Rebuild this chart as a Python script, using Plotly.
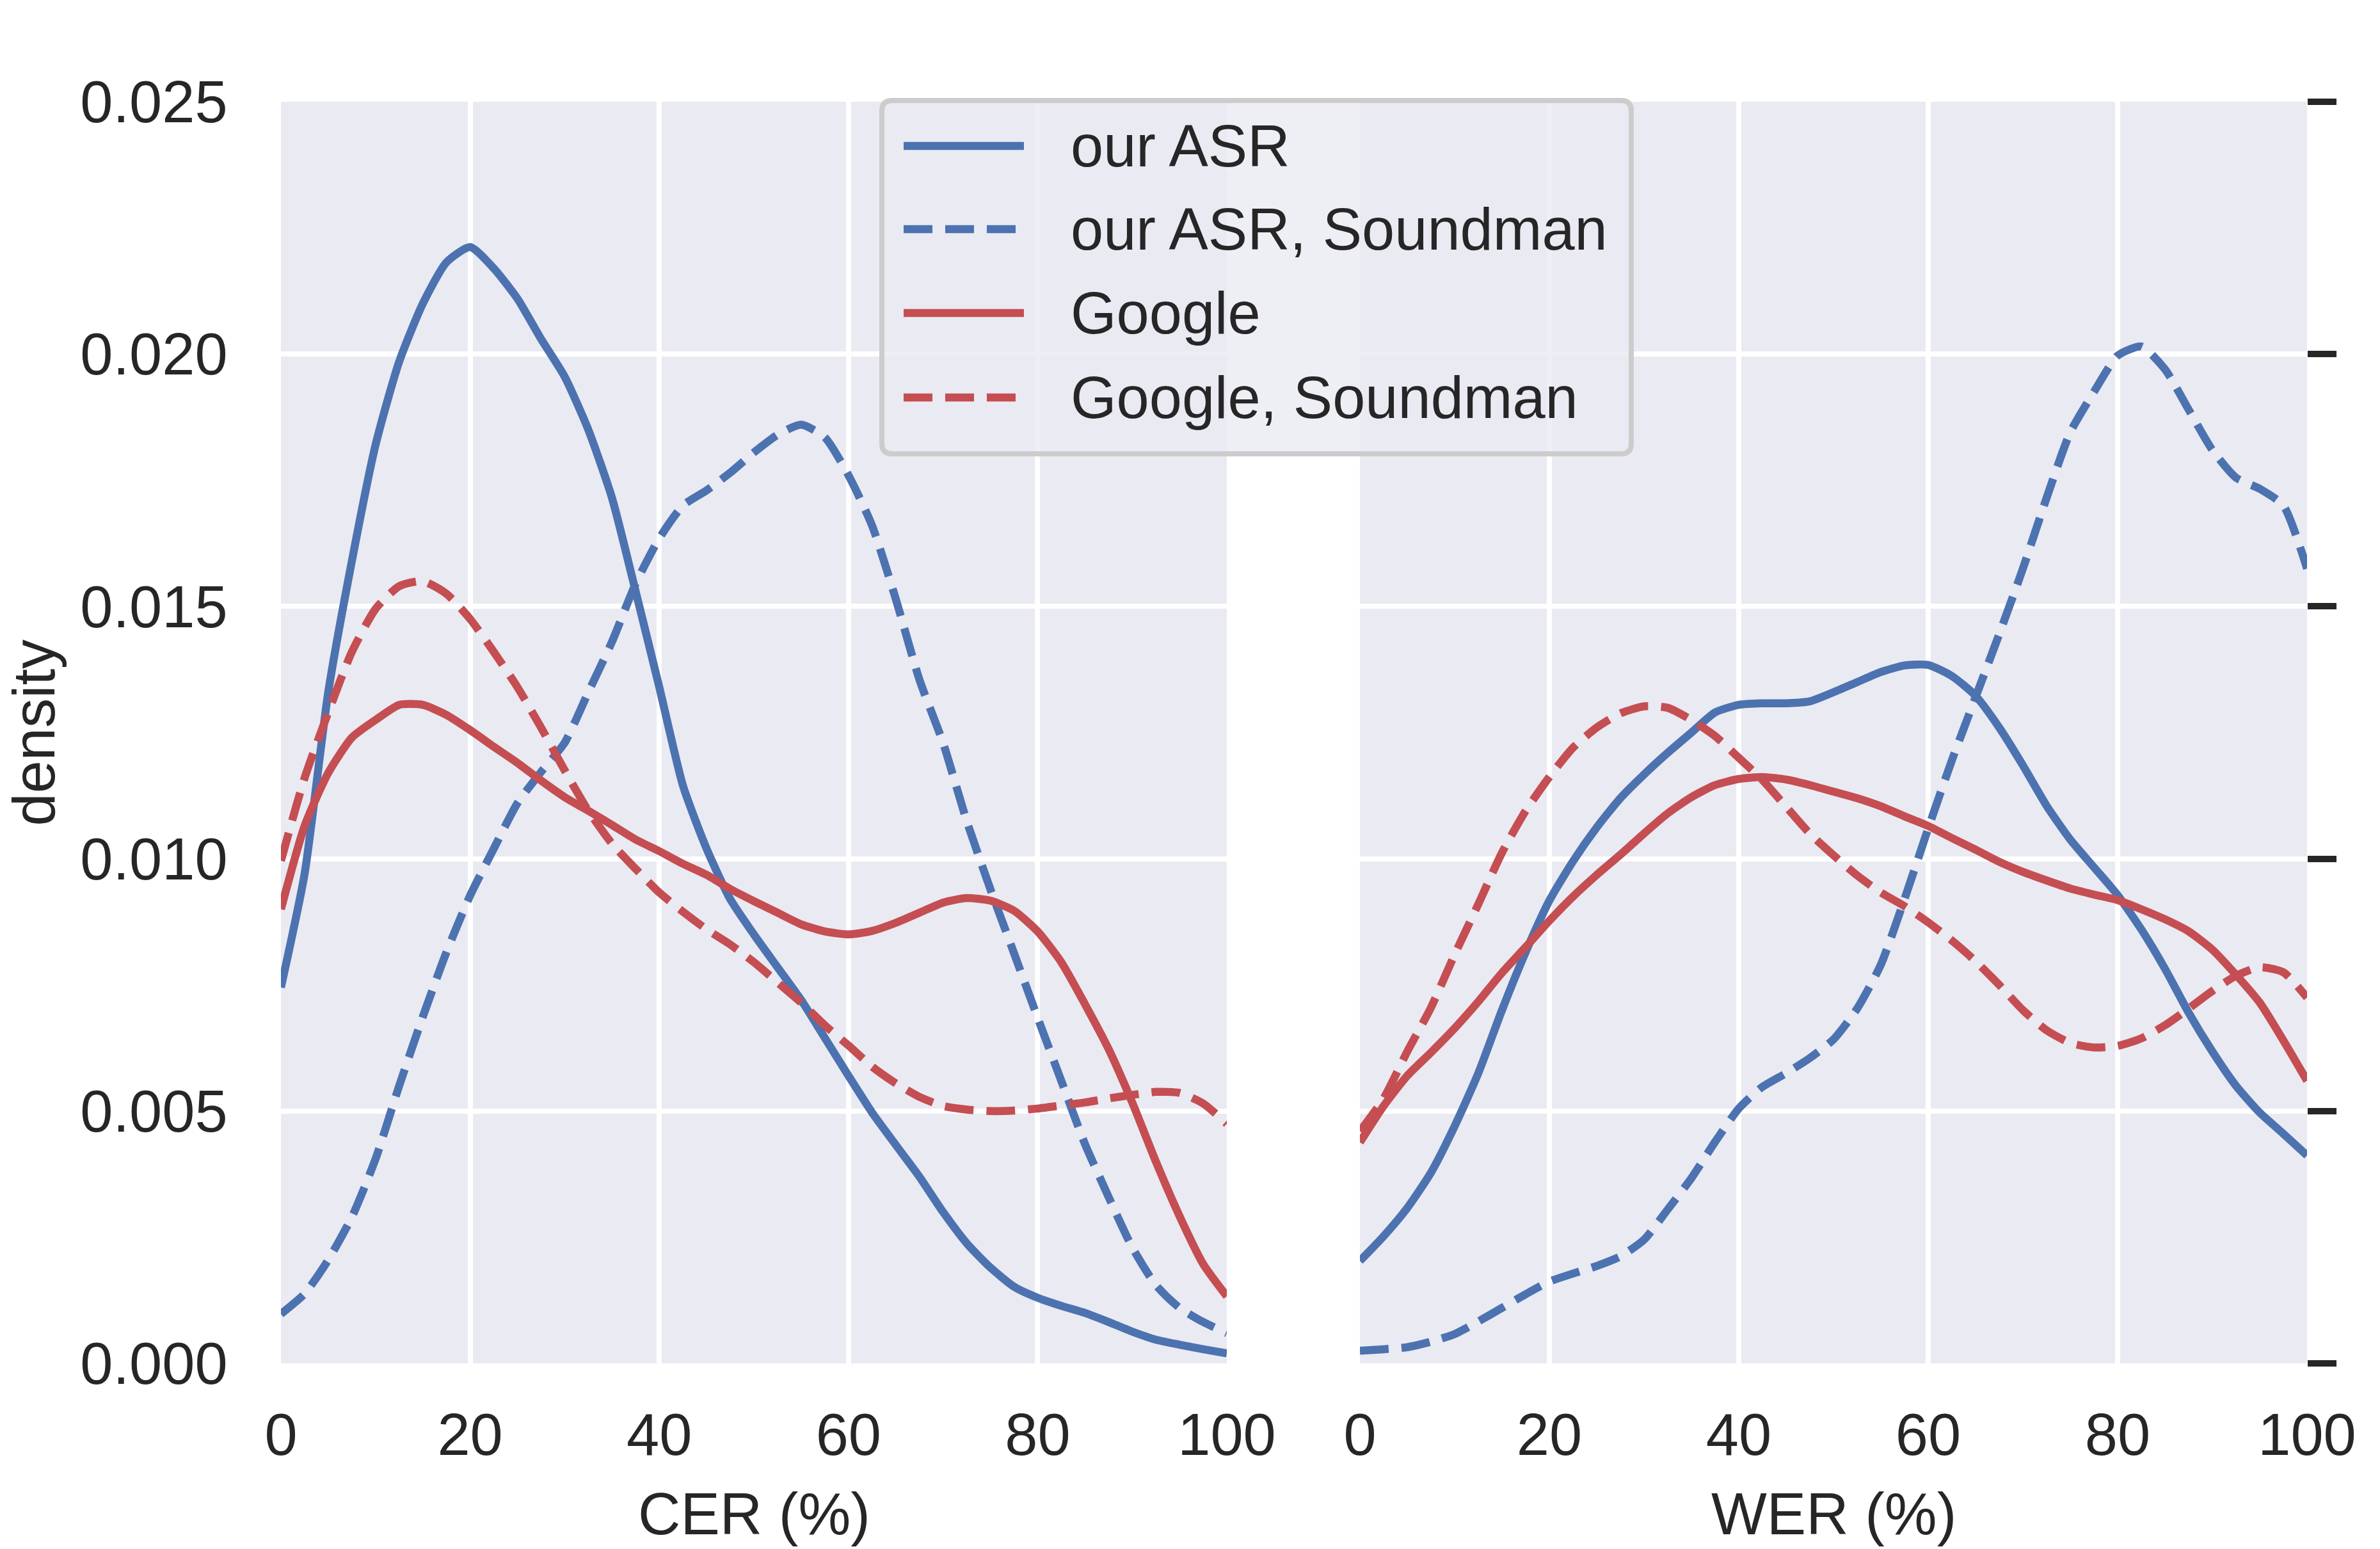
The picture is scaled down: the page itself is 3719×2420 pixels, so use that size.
import plotly.graph_objects as go

# ---------------- data ----------------
x_grid = [0, 2.5, 5, 7.5, 10, 12.5, 15, 17.5, 20, 22.5, 25, 27.5, 30, 32.5, 35, 37.5,
          40, 42.5, 45, 47.5, 50, 52.5, 55, 57.5, 60, 62.5, 65, 67.5, 70, 72.5, 75,
          77.5, 80, 82.5, 85, 87.5, 90, 92.5, 95, 97.5, 100]

series_names = ["our ASR", "our ASR, Soundman", "Google", "Google, Soundman"]

cer_our_asr = [0.00745, 0.0097, 0.0133, 0.0159, 0.0182, 0.01985, 0.0210, 0.02182, 0.02212, 0.0217,
               0.0211, 0.0203, 0.01955, 0.0185, 0.01715, 0.0153, 0.0134, 0.01145, 0.0102, 0.0092,
               0.0085, 0.00785, 0.0072, 0.00645, 0.0057, 0.00497, 0.00433, 0.0037, 0.0030, 0.00238,
               0.0019, 0.00152, 0.0013, 0.00114, 0.0010, 0.00082, 0.00063, 0.00047, 0.00037, 0.00028,
               0.0002]
cer_our_asr_soundman = [0.00098, 0.00138, 0.00205, 0.0029, 0.00405, 0.0055, 0.00687, 0.00815, 0.00927, 0.0102,
                        0.0111, 0.01172, 0.0123, 0.0133, 0.0143, 0.01545, 0.01635, 0.0170, 0.0173, 0.01765,
                        0.01805, 0.0184, 0.0186, 0.01835, 0.0176, 0.0166, 0.01515, 0.01355, 0.0123, 0.01075,
                        0.0094, 0.00813, 0.00685, 0.0056, 0.00435, 0.0033, 0.0023, 0.00155, 0.0011, 0.00082,
                        0.0006]
cer_google = [0.0090, 0.01065, 0.0117, 0.0124, 0.01275, 0.01305, 0.01305, 0.01285, 0.01255, 0.01222,
              0.0119, 0.01155, 0.01122, 0.01095, 0.01067, 0.01038, 0.01015, 0.0099, 0.00968, 0.0094,
              0.00916, 0.00893, 0.0087, 0.00856, 0.0085, 0.00857, 0.00873, 0.00893, 0.00913, 0.00922,
              0.00917, 0.00897, 0.00856, 0.00795, 0.00712, 0.00623, 0.00517, 0.0040, 0.00292, 0.00197,
              0.00133]
cer_google_soundman = [0.00996, 0.0116, 0.0129, 0.0141, 0.01495, 0.0154, 0.0155, 0.01525, 0.01475, 0.0141,
                       0.0134, 0.0126, 0.01175, 0.01095, 0.0103, 0.0098, 0.00933, 0.00895, 0.0086, 0.0083,
                       0.00795, 0.00755, 0.00715, 0.0067, 0.0063, 0.00588, 0.00555, 0.00528, 0.0051, 0.00503,
                       0.0050, 0.00501, 0.00505, 0.00511, 0.00517, 0.00525, 0.00532, 0.00538, 0.00536, 0.00515,
                       0.00475]

wer_our_asr = [0.00203, 0.00252, 0.00308, 0.00378, 0.0047, 0.00575, 0.0070, 0.00815, 0.00917, 0.00995,
               0.01062, 0.0112, 0.01167, 0.0121, 0.0125, 0.0129, 0.01305, 0.01308, 0.01308, 0.01312,
               0.0133, 0.0135, 0.0137, 0.01383, 0.01384, 0.01362, 0.01323, 0.0126, 0.01185, 0.01105,
               0.01038, 0.00983, 0.00928, 0.0086, 0.00782, 0.00695, 0.00618, 0.0055, 0.00497, 0.00455,
               0.00412]
wer_our_asr_soundman = [0.00025, 0.00028, 0.00032, 0.00043, 0.00058, 0.00083, 0.0011, 0.00137, 0.00162, 0.00178,
                        0.00193, 0.00212, 0.00245, 0.00305, 0.00367, 0.00439, 0.00505, 0.00548, 0.00575, 0.00605,
                        0.00642, 0.00703, 0.0079, 0.0092, 0.0106, 0.01195, 0.0132, 0.01445, 0.01575, 0.01715,
                        0.01845, 0.01925, 0.01997, 0.02015, 0.0197, 0.0189, 0.0181, 0.01755, 0.01733, 0.0170,
                        0.01575]
wer_google = [0.00438, 0.0051, 0.0057, 0.00616, 0.00664, 0.00717, 0.00774, 0.00825, 0.00877, 0.00925,
              0.00968, 0.01008, 0.0105, 0.0109, 0.01122, 0.01146, 0.01158, 0.01162, 0.01157, 0.01146,
              0.01133, 0.0112, 0.01104, 0.01084, 0.01065, 0.01041, 0.01018, 0.00994, 0.00974, 0.00957,
              0.00941, 0.00929, 0.00918, 0.0090, 0.0088, 0.00856, 0.0082, 0.0077, 0.00715, 0.0064,
              0.0056]
wer_google_soundman = [0.0046, 0.00525, 0.00618, 0.00705, 0.0081, 0.0091, 0.01012, 0.01095, 0.01162, 0.0122,
                       0.0126, 0.01288, 0.01302, 0.01299, 0.01275, 0.01243, 0.0120, 0.01156, 0.01103, 0.0105,
                       0.01007, 0.00967, 0.00933, 0.00906, 0.00874, 0.00838, 0.00797, 0.0075, 0.0070, 0.0066,
                       0.00635, 0.00626, 0.00629, 0.00644, 0.0067, 0.00703, 0.00738, 0.00768, 0.00785, 0.00775,
                       0.00725]

x_ticks = [0, 20, 40, 60, 80, 100]
y_ticks = [0.0, 0.005, 0.010, 0.015, 0.020, 0.025]
x_titles = ["CER (%)", "WER (%)"]
y_title = "density"

# ---------------- style ----------------
W, H = 3719, 2420
PL, PR, PT, PB = 439, 3605, 159, 2130          # plot area in pixels
BLUE, RED = "#4C72B0", "#C44E52"
TEXT = "#262626"
BG = "#EAEAF2"
LW = 12.5
DASH = "45px,20px"
FONT = "Liberation Sans, Arial, Helvetica, sans-serif"
FS = 92

def px(x):
    return (x - PL) / (PR - PL)

def py(y):
    return (PB - y) / (PB - PT)

styles = [(BLUE, "solid"), (BLUE, DASH), (RED, "solid"), (RED, DASH)]
cer_series = [cer_our_asr, cer_our_asr_soundman, cer_google, cer_google_soundman]
wer_series = [wer_our_asr, wer_our_asr_soundman, wer_google, wer_google_soundman]

fig = go.Figure()
for name, (col, dash), cer, wer in zip(series_names, styles, cer_series, wer_series):
    ln = dict(color=col, width=LW, dash=dash, shape="spline", smoothing=0.6)
    fig.add_trace(go.Scatter(x=x_grid, y=cer, mode="lines", name=name, line=ln,
                             xaxis="x", yaxis="y", showlegend=False))
    fig.add_trace(go.Scatter(x=x_grid, y=wer, mode="lines", name=name, line=ln,
                             xaxis="x2", yaxis="y2", showlegend=False))

split_l = px(1917)
split_r = px(2125)

common_x = dict(range=[0, 100], tickvals=x_ticks, showgrid=True, gridcolor="white",
                gridwidth=8, zeroline=False, showline=False, ticks="outside", ticklen=32,
                tickcolor="rgba(0,0,0,0)", tickfont=dict(size=FS, color=TEXT, family=FONT),
                fixedrange=True)
common_y = dict(range=[0, 0.025], tickvals=y_ticks, tickformat=".3f", showgrid=True,
                gridcolor="white", gridwidth=8, zeroline=False, showline=False,
                tickfont=dict(size=FS, color=TEXT, family=FONT), fixedrange=True)

fig.update_layout(
    width=W, height=H,
    margin=dict(l=PL, r=W - PR, t=PT, b=H - PB, pad=0),
    paper_bgcolor="white", plot_bgcolor=BG,
    showlegend=False,
    font=dict(family=FONT, size=FS, color=TEXT),
    xaxis=dict(domain=[0, split_l], anchor="y", **common_x),
    xaxis2=dict(domain=[split_r, 1], anchor="y2", **common_x),
    yaxis=dict(domain=[0, 1], anchor="x", ticks="outside", ticklen=64,
               tickcolor="rgba(0,0,0,0)", **common_y),
    yaxis2=dict(domain=[0, 1], anchor="x2", side="right", showticklabels=False,
                ticks="outside", ticklen=45, tickwidth=10, tickcolor=TEXT, linewidth=20,
                **common_y),
)

# axis titles
ann = []
ann.append(dict(text=x_titles[0], x=(px(PL) + split_l) / 2, y=py(2365), xref="paper", yref="paper",
                xanchor="center", yanchor="middle", showarrow=False, font=dict(size=FS, color=TEXT)))
ann.append(dict(text=x_titles[1], x=(split_r + 1) / 2, y=py(2365), xref="paper", yref="paper",
                xanchor="center", yanchor="middle", showarrow=False, font=dict(size=FS, color=TEXT)))
ann.append(dict(text=y_title, x=px(0), y=0.5, xref="paper", yref="paper", textangle=-90,
                xanchor="left", yanchor="middle", showarrow=False, borderpad=0,
                font=dict(size=FS, color=TEXT)))

# legend (box, line samples, labels)
bx0, by0, bx1, by1, rad = 1378, 157, 2549, 709, 16
rx = rad / (PR - PL)
ry = rad / (PB - PT)
X0, X1, Y0, Y1 = px(bx0), px(bx1), py(by0), py(by1)
path = (f"M{X0+rx},{Y0} L{X1-rx},{Y0} Q{X1},{Y0} {X1},{Y0-ry} "
        f"L{X1},{Y1+ry} Q{X1},{Y1} {X1-rx},{Y1} L{X0+rx},{Y1} Q{X0},{Y1} {X0},{Y1+ry} "
        f"L{X0},{Y0-ry} Q{X0},{Y0} {X0+rx},{Y0} Z")
shapes = [dict(type="path", path=path, xref="paper", yref="paper", layer="above",
               fillcolor="rgba(234,234,242,0.8)", line=dict(color="#CCCCCC", width=8))]
rows = [228, 358, 489, 621]
for name, (col, dash), ry_px in zip(series_names, styles, rows):
    shapes.append(dict(type="line", xref="paper", yref="paper", layer="above",
                       x0=px(1412), x1=px(1600), y0=py(ry_px), y1=py(ry_px),
                       line=dict(color=col, width=LW, dash=dash)))
    ann.append(dict(text=name, x=px(1671), y=py(ry_px), xref="paper", yref="paper",
                    xanchor="left", yanchor="middle", showarrow=False,
                    font=dict(size=FS, color=TEXT)))

fig.update_layout(shapes=shapes, annotations=ann)
fig.write_html("out.html")
